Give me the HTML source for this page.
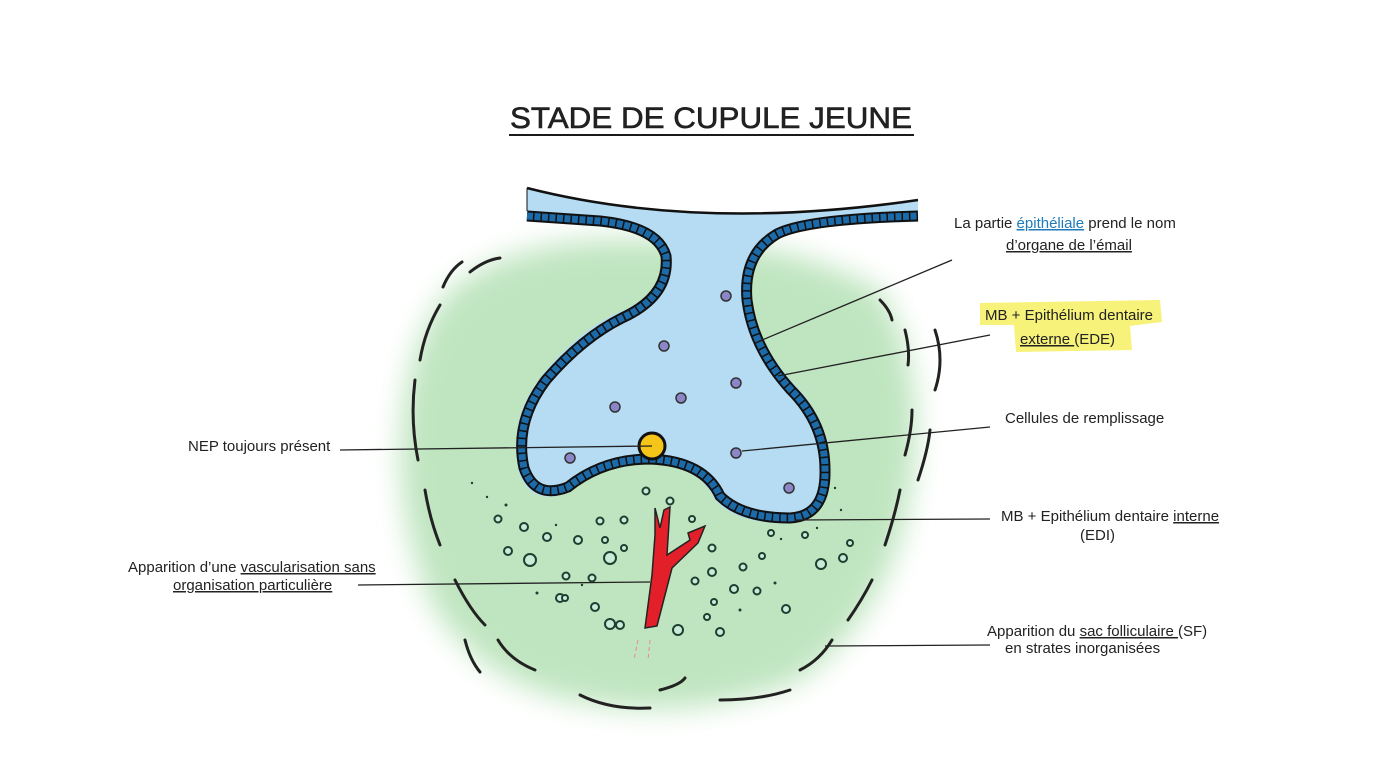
<!DOCTYPE html>
<html><head><meta charset="utf-8"><style>
html,body{margin:0;padding:0;background:#fff;}
svg{display:block;}
text{font-family:"Liberation Sans",Arial,sans-serif;fill:#222;}
.u{text-decoration:underline;}
</style></head><body>
<svg width="1378" height="760" viewBox="0 0 1378 760" xmlns="http://www.w3.org/2000/svg">
<defs>
<filter id="blur" x="-20%" y="-20%" width="140%" height="140%"><feGaussianBlur stdDeviation="14"/></filter>
</defs>
<rect width="1378" height="760" fill="#fff"/>
<text x="510" y="128" font-size="30" fill="#1a1a1a" stroke="#1a1a1a" stroke-width="0.6" textLength="402" lengthAdjust="spacingAndGlyphs">STADE DE CUPULE JEUNE</text>
<line x1="509" y1="135" x2="914" y2="135" stroke="#1a1a1a" stroke-width="2"/>

<path d="M450,290 Q520,235 640,240 Q780,235 880,290 Q935,380 905,520 Q880,620 800,680 Q700,720 600,705 Q480,690 430,600 Q390,500 405,400 Q415,330 450,290 Z" fill="#bfe5c0" filter="url(#blur)"/>
<g fill="none" stroke="#222" stroke-width="3" stroke-linecap="round">
<path d="M443,287 Q450,270 462,262"/>
<path d="M470,272 Q485,260 500,258"/>
<path d="M440,305 Q425,330 420,360"/>
<path d="M415,380 Q410,420 418,460"/>
<path d="M425,490 Q430,520 440,545"/>
<path d="M455,580 Q470,610 485,625"/>
<path d="M498,640 Q510,660 535,670"/>
<path d="M465,640 Q470,660 480,672"/>
<path d="M580,695 Q610,710 650,708"/>
<path d="M660,690 Q680,685 685,678"/>
<path d="M720,700 Q760,700 790,690"/>
<path d="M800,670 Q820,660 832,640"/>
<path d="M848,620 Q862,600 872,580"/>
<path d="M885,545 Q895,515 900,490"/>
<path d="M918,480 Q928,450 930,430"/>
<path d="M905,455 Q912,430 912,410"/>
<path d="M935,330 Q945,360 935,390"/>
<path d="M905,330 Q910,350 908,365"/>
<path d="M880,300 Q890,310 892,320"/>
</g>

<path d="M527,188 Q700,232 918,200 L918,222 Q810,224 778,238 Q748,258 752,300 Q758,345 795,385 Q830,420 830,470 Q830,522 790,523 Q738,525 715,500 Q700,466 650,464 Q605,463 570,492 Q530,508 518,470 Q508,420 540,378 Q578,330 620,312 Q668,290 662,255 Q652,230 600,225 L527,220 Z" fill="#b5dcf3"/>
<path d="M527,216 L600,221 Q658,227 666,256 Q670,296 622,318 Q582,338 546,380 Q514,422 524,468 Q535,500 568,487 Q603,459 650,459 Q704,461 720,496 Q742,518 790,518 Q826,516 825,470 Q825,424 791,390 Q753,348 747,300 Q743,254 777,234 Q806,219 918,216" fill="none" stroke="#111" stroke-width="11"/>
<path d="M527,216 L600,221 Q658,227 666,256 Q670,296 622,318 Q582,338 546,380 Q514,422 524,468 Q535,500 568,487 Q603,459 650,459 Q704,461 720,496 Q742,518 790,518 Q826,516 825,470 Q825,424 791,390 Q753,348 747,300 Q743,254 777,234 Q806,219 918,216" fill="none" stroke="#1c6aa8" stroke-width="7" stroke-dasharray="6,1.5"/>
<path d="M527,188 Q700,232 918,200" fill="none" stroke="#111" stroke-width="2.5"/>
<path d="M527,188 L527,211" stroke="#111" stroke-width="1"/>

<g fill="#8a86c8" stroke="#333" stroke-width="1.5">
<circle cx="726" cy="296" r="5"/>
<circle cx="664" cy="346" r="5"/>
<circle cx="736" cy="383" r="5"/>
<circle cx="681" cy="398" r="5"/>
<circle cx="615" cy="407" r="5"/>
<circle cx="570" cy="458" r="5"/>
<circle cx="736" cy="453" r="5"/>
<circle cx="789" cy="488" r="5"/>
</g>
<circle cx="652" cy="446" r="13" fill="#f6c51a" stroke="#111" stroke-width="3"/>

<g fill="#c8ecd8" stroke="#1d3f30" stroke-width="2">
<circle cx="498" cy="519" r="3.5"/><circle cx="524" cy="527" r="4"/><circle cx="547" cy="537" r="4"/>
<circle cx="508" cy="551" r="4"/><circle cx="530" cy="560" r="6"/><circle cx="578" cy="540" r="4"/>
<circle cx="600" cy="521" r="3.5"/><circle cx="624" cy="520" r="3.5"/><circle cx="646" cy="491" r="3.5"/>
<circle cx="670" cy="501" r="3.5"/><circle cx="605" cy="540" r="3"/><circle cx="610" cy="558" r="6"/>
<circle cx="566" cy="576" r="3.5"/><circle cx="592" cy="578" r="3.5"/><circle cx="560" cy="598" r="4"/>
<circle cx="595" cy="607" r="4"/><circle cx="610" cy="624" r="5"/><circle cx="624" cy="548" r="3"/>
<circle cx="692" cy="519" r="3"/>
<circle cx="712" cy="548" r="3.5"/><circle cx="695" cy="581" r="3.5"/><circle cx="712" cy="572" r="4"/>
<circle cx="743" cy="567" r="3.5"/><circle cx="762" cy="556" r="3"/><circle cx="771" cy="533" r="3"/>
<circle cx="805" cy="535" r="3"/><circle cx="821" cy="564" r="5"/><circle cx="843" cy="558" r="4"/>
<circle cx="850" cy="543" r="3"/><circle cx="734" cy="589" r="4"/><circle cx="757" cy="591" r="3.5"/>
<circle cx="786" cy="609" r="4"/><circle cx="714" cy="602" r="3"/><circle cx="678" cy="630" r="5"/>
<circle cx="707" cy="617" r="3"/><circle cx="720" cy="632" r="4"/><circle cx="620" cy="625" r="4"/>
<circle cx="565" cy="598" r="3"/>
</g>
<g fill="#1d3f30">
<circle cx="472" cy="483" r="1.2"/><circle cx="487" cy="497" r="1.2"/><circle cx="506" cy="505" r="1.5"/>
<circle cx="556" cy="525" r="1.2"/><circle cx="582" cy="585" r="1.2"/><circle cx="537" cy="593" r="1.5"/>
<circle cx="775" cy="583" r="1.5"/><circle cx="740" cy="610" r="1.5"/><circle cx="781" cy="539" r="1.2"/>
<circle cx="835" cy="488" r="1.2"/><circle cx="841" cy="510" r="1.2"/><circle cx="817" cy="528" r="1.2"/>
</g>

<path d="M655,508 L660,528 L664,510 L670,507 L667,555 L690,540 L688,533 L705,526 L698,543 L672,568 L657,626 L645,628 L652,575 L655,535 Z" fill="#e3202a" stroke="#222" stroke-width="1.5"/>
<path d="M638,640 L634,660 M650,640 L648,660" stroke="#e88" stroke-width="1" stroke-dasharray="4,3"/>

<g stroke="#222" stroke-width="1.3" fill="none">
<line x1="755" y1="343" x2="952" y2="260"/>
<line x1="778" y1="376" x2="990" y2="335"/>
<line x1="742" y1="451" x2="990" y2="427"/>
<line x1="340" y1="450" x2="652" y2="446"/>
<line x1="795" y1="520" x2="990" y2="519"/>
<line x1="358" y1="585" x2="650" y2="582"/>
<line x1="825" y1="646" x2="990" y2="645"/>
</g>

<path d="M980,303 L1160,300 L1162,322 L1130,326 L1132,350 L1016,352 L1014,325 L980,325 Z" fill="#f7f27a"/>
<g font-size="15">
<text x="954" y="228">La partie <tspan class="u" fill="#1f7ab8">épithéliale</tspan> prend le nom</text>
<text x="1006" y="250" class="u">d’organe de l’émail</text>

<text x="985" y="320">MB + Epithélium dentaire</text>
<text x="1020" y="344"><tspan class="u">externe </tspan>(EDE)</text>

<text x="1005" y="423">Cellules de remplissage</text>

<text x="188" y="451">NEP toujours présent</text>

<text x="1001" y="521">MB + Epithélium dentaire <tspan class="u">interne</tspan></text>
<text x="1080" y="540">(EDI)</text>

<text x="128" y="572">Apparition d’une <tspan class="u">vascularisation sans</tspan></text>
<text x="173" y="590" class="u">organisation particulière</text>

<text x="987" y="636">Apparition du <tspan class="u">sac folliculaire </tspan>(SF)</text>
<text x="1005" y="653">en strates inorganisées</text>
</g>
</svg>
</body></html>
